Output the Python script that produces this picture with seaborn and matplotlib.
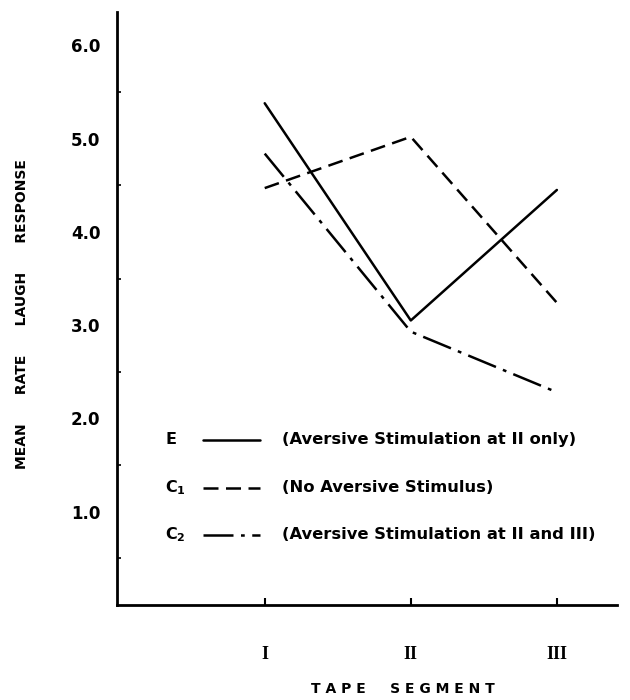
import matplotlib
matplotlib.use("Agg")
import matplotlib.pyplot as plt
import pandas as pd
import seaborn as sns

# valores
segmentos = [1, 2, 3]
rotulos_segmento = ['I', 'II', 'III']
grupo_e = [5.38, 3.05, 4.45]
grupo_c1 = [4.47, 5.02, 3.24]
grupo_c2 = [4.84, 2.93, 2.28]
nomes_grupos = ['E', 'C1', 'C2']
descricoes = [
    '(Aversive Stimulation at II only)',
    '(No Aversive Stimulus)',
    '(Aversive Stimulation at II and III)',
]
rotulos_legenda = ['E', 'C$_\\mathbf{1}$', 'C$_\\mathbf{2}$']


def montar_dados():

    linhas = []
    for nome, valores in zip(nomes_grupos, [grupo_e, grupo_c1, grupo_c2]):
        for seg, v in zip(segmentos, valores):
            linhas.append({'segmento': seg, 'resposta': v, 'grupo': nome})

    return pd.DataFrame(linhas)


def gerar_plotagem(dados):

    sns.set_theme(style='white')
    plt.rcParams['font.family'] = ['DejaVu Sans']
    plt.rcParams['mathtext.fontset'] = 'dejavusans'
    plt.rcParams['text.color'] = 'black'
    plt.rcParams['axes.labelcolor'] = 'black'

    fig = plt.figure(figsize=(6.3, 7), dpi=100)
    ax = fig.add_axes([0.186, 0.136, 0.793, 0.847])

    tracos = {'E': '', 'C1': (6, 3), 'C2': (12, 3, 1.5, 3)}
    sns.lineplot(data=dados, x='segmento', y='resposta', style='grupo',
                 dashes=tracos, color='black', linewidth=1.8,
                 legend=False, ax=ax)

    ax.set_xlim(-0.01, 3.41)
    ax.set_ylim(0, 6.36)

    for lado in ['top', 'right']:
        ax.spines[lado].set_visible(False)
    for lado in ['left', 'bottom']:
        ax.spines[lado].set_color('black')
        ax.spines[lado].set_linewidth(2)

    ax.set_yticks([1, 2, 3, 4, 5, 6])
    ax.set_yticklabels(['1.0', '2.0', '3.0', '4.0', '5.0', '6.0'],
                       fontsize=12, fontweight='bold')
    ax.set_yticks([0.5, 1.5, 2.5, 3.5, 4.5, 5.5], minor=True)
    ax.tick_params(axis='y', which='major', direction='in', length=5,
                   width=1.5, pad=12, colors='black')
    ax.tick_params(axis='y', which='minor', direction='in', length=3,
                   width=1.2, left=True, colors='black')

    ax.set_xticks(segmentos)
    ax.set_xticklabels(rotulos_segmento, fontsize=13, fontweight='bold',
                       family='Liberation Serif')
    ax.tick_params(axis='x', which='major', direction='in', length=5,
                   width=1.5, pad=30, colors='black', bottom=True)

    ax.set_xlabel('T A P E     S E G M E N T', fontsize=10, fontweight='bold')
    ax.xaxis.set_label_coords(0.572, -0.13)
    ax.set_ylabel('MEAN      RATE      LAUGH      RESPONSE',
                  fontsize=10, fontweight='bold')
    ax.yaxis.set_label_coords(-0.176, 0.491)

    # legenda desenhada a mao, como no original
    estilos = ['-', (0, (6, 3)), (0, (12, 3, 1.5, 3))]
    alturas = [0.278, 0.197, 0.118]
    for rot, est, desc, yy in zip(rotulos_legenda, estilos, descricoes, alturas):
        ax.text(0.096, yy, rot, transform=ax.transAxes, fontsize=11.5,
                fontweight='bold', va='center')
        ax.plot([0.172, 0.286], [yy, yy], transform=ax.transAxes,
                color='black', linestyle=est, linewidth=1.8)
        ax.text(0.330, yy, desc, transform=ax.transAxes, fontsize=11.8,
                fontweight='bold', va='center')

    return fig


if __name__ == '__main__':
    dados = montar_dados()
    fig = gerar_plotagem(dados)
    fig.savefig('out.png', dpi=100)
